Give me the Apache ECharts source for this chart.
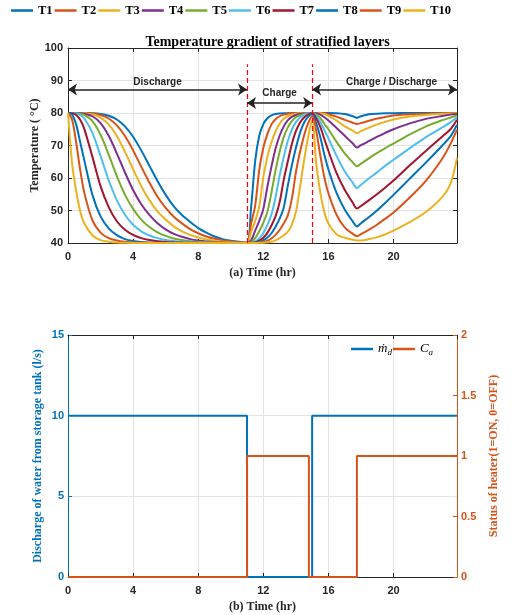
<!DOCTYPE html>
<html><head><meta charset="utf-8">
<script src="https://cdn.jsdelivr.net/npm/echarts@6/dist/echarts.min.js"></script>
<style>html,body{margin:0;padding:0;background:#fff}#c{width:517px;height:615px}</style>
</head><body><div id="c"></div>
<script>
// ---- data ----
const timeHr = [0,0.25,0.5,0.75,1,1.5,2,2.5,3,3.5,4,4.5,5,5.5,6,6.5,7,7.5,8,8.5,9,9.5,10,10.5,11,
  11.25,11.5,11.75,12,12.25,12.5,12.75,13,13.25,13.5,13.75,14,14.25,14.5,14.75,15,
  15.25,15.5,15.75,16,16.5,17,17.5,17.75,18,18.5,19,19.5,20,21,22,23,23.5,23.9];
const T1 = [80,80,80,80,80,79.93,79.72,79.15,78.0,75.9,72.7,68.5,63.8,59.05,54.8,51.3,48.6,46.5,44.6,43.2,42.0,41.2,40.7,40.35,40.15,
  51,65.2,73,76.6,78.4,79.3,79.7,79.85,79.92,79.95,79.97,79.98,80,80,80,80,
  80,80,80,80,79.95,79.7,79.0,78.5,79.0,79.6,79.8,79.9,79.95,80,80,80,80,80];
const T2 = [80,80,80,80,80,79.84,79.4,78.3,76.2,72.9,68.5,63.5,58.6,54.25,50.8,48.1,46.05,44.3,43.0,42.0,41.3,40.8,40.45,40.25,40.1,
  46,51.5,62.5,69.3,73.5,76.5,78.1,79.0,79.5,79.8,79.9,79.95,80,80,80,80,
  80,80,79.9,79.6,78.9,77.9,77.0,76.6,76.9,77.6,78.3,78.8,79.2,79.6,79.8,79.9,79.95,80];
const T3 = [80,80,80,80,79.93,79.6,78.6,76.5,72.9,68.05,62.7,57.5,53.2,49.7,47.2,45.1,43.6,42.5,41.7,41.1,40.7,40.4,40.25,40.1,40.05,
  43.4,46.8,51.2,60.3,66.5,71,74.3,76.7,78.2,79.0,79.5,79.75,79.9,79.95,80,80,
  80,79.95,79.7,79.1,77.7,75.9,74.6,73.8,74.4,75.5,76.5,77.3,78.0,78.9,79.4,79.75,79.85,79.9];
const T4 = [80,80,80,79.94,79.8,79.0,76.9,73.0,67.6,61.7,56.3,51.9,48.66,46.1,44.2,42.8,41.9,41.2,40.75,40.45,40.25,40.15,40.08,40.04,40.02,
  40.8,43.8,46.8,50.5,57.3,63.5,69,73,75.8,77.7,78.8,79.4,79.7,79.85,79.95,80,
  79.9,79.5,78.7,77.7,75.4,73.0,70.6,69.4,70.1,71.4,72.7,73.9,75.0,76.8,78.2,79.1,79.5,79.7];
const T5 = [80,80,79.96,79.8,79.4,77.5,73.3,67.2,60.6,54.9,50.5,47.2,44.9,43.3,42.2,41.4,40.9,40.55,40.35,40.2,40.1,40.06,40.03,40.02,40.01,
  40.3,41.5,43.6,46.2,49.6,55.5,62.3,68,72.5,75.5,77.5,78.7,79.3,79.65,79.85,80,
  79.5,78.5,76.7,75.0,71.1,67.6,64.8,63.6,64.4,66.1,67.7,69.2,70.6,73.4,75.9,77.8,78.6,79.3];
const T6 = [80,79.99,79.85,79.4,78.3,73.9,66.8,59.3,53.2,48.7,45.6,43.6,42.3,41.5,40.95,40.6,40.35,40.2,40.12,40.07,40.04,40.02,40.01,40,40,
  40.1,40.5,41.4,43,45.6,48.8,54,60.7,66.3,71.3,74.8,77.2,78.6,79.4,79.8,80,
  79.0,77.2,74.8,72.2,66.8,62.1,58.5,56.9,57.9,59.9,61.8,63.8,65.6,69.2,72.6,75.6,77.1,78.7];
const T7 = [80,79.93,79.4,77.9,75.1,66.5,57.5,51.05,46.7,44.1,42.5,41.5,40.9,40.55,40.33,40.2,40.12,40.07,40.04,40.02,40.01,40,40,40,40,
  40.05,40.2,40.7,41.6,43.1,45.4,48.2,52.5,59.3,65,70.4,74.4,77,78.6,79.5,79.9,
  78.3,75.7,72.0,68.3,61.5,56.4,52.4,50.6,51.4,53.2,55.1,57.1,59.2,63.9,68.4,72.8,75.0,77.9];
const T8 = [80,79.5,76.5,71.0,65.5,54.8,48.2,44.5,42.4,41.2,40.6,40.3,40.15,40.08,40.04,40.02,40,40,40,40,40,40,40,40,40,
  40,40.1,40.3,40.8,41.7,43,45,47.5,50.8,57.5,63.8,69.2,73.8,77,78.8,79.6,
  76.8,72.6,67.2,62.6,55.4,50.3,46.6,45.1,46.1,48.0,50.1,52.4,54.8,59.8,64.8,70.0,72.8,76.4];
const T9 = [80,78,71,62.5,55.5,47,43.2,41.5,40.75,40.35,40.15,40.07,40.03,40,40,40,40,40,40,40,40,40,40,40,40,
  40,40.05,40.1,40.3,40.7,41.4,42.5,44,46,48.4,53.5,61.7,67.9,73,76.8,79,
  74.5,67,60.2,55.3,48.7,44.8,42.8,42.1,42.7,44.1,45.7,47.5,49.4,54.0,59.2,66.0,70.5,74.9];
const T10 = [80,64.5,56,49.8,46.1,42.4,40.9,40.4,40.15,40.05,40,40,40,40,40,40,40,40,40,40,40,40,40,40,40,
  40,40,40.05,40.1,40.2,40.4,40.8,41.5,42.4,43.4,45.6,49.5,57,65.3,72.5,77.8,
  64.5,55.5,49.5,46.0,42.7,41.6,41.0,40.8,40.8,41.2,41.8,42.7,43.8,46.4,49.6,54.2,58.2,66.2];
const layerNames = ['T1','T2','T3','T4','T5','T6','T7','T8','T9','T10'];
const layerValues = [T1,T2,T3,T4,T5,T6,T7,T8,T9,T10];

const flowTimes = [0, 11, 15, 23.9];
const flowValues = [10, 0, 10, 10];
const heaterTimes = [0, 11, 14.8, 17.75, 23.9];
const heaterValues = [0, 1, 0, 1, 1];

const phaseBounds = [11, 15];
const phaseLabels = ['Discharge', 'Charge', 'Charge / Discharge'];
const phaseStarts = [0, 11, 15];
const phaseEnds = [11, 15, 23.9];

// ---- styles ----
const colors = ['#0072BD','#D95319','#EDB120','#7E2F8E','#77AC30','#4DBEEE','#A2142F','#0072BD','#D95319','#EDB120'];
const AX = '#262626', GRID = '#e3e3e3';
const sans = "'Liberation Sans', Arial, sans-serif";
const serif = "'Liberation Serif', 'Times New Roman', serif";
const BLUE = '#0072BD', ORANGE = '#D95319';
const XMAX = 23.9;

function xAxisBase(gridIndex, showLabel, name) {
  return {
    type: 'value', gridIndex, min: 0, max: XMAX, interval: 4,
    axisLine: {show: true, onZero: false, lineStyle: {color: AX, width: 1}},
    axisTick: {show: true, inside: true, length: 4, lineStyle: {color: AX}},
    axisLabel: {show: showLabel, showMaxLabel: false, color: AX, fontFamily: sans, fontWeight: 'bold', fontSize: 11, margin: 8},
    splitLine: {show: showLabel, lineStyle: {color: GRID, width: 1}},
    name: name || '', nameLocation: 'middle', nameGap: 24, nameMoveOverlap: false,
    nameTextStyle: {fontFamily: serif, fontWeight: 'bold', fontSize: 12, color: AX}
  };
}
function xAxisTop(gridIndex) {
  const a = xAxisBase(gridIndex, false, '');
  a.position = 'top';
  return a;
}
function yAxisBase(gridIndex, min, max, interval, position, color, showLabel, split, name, nameGap) {
  return {
    type: 'value', gridIndex, min, max, interval, position,
    axisLine: {show: true, onZero: false, lineStyle: {color}},
    axisTick: {show: true, inside: true, length: 4, lineStyle: {color}},
    axisLabel: {show: showLabel, color, fontFamily: sans, fontWeight: 'bold', fontSize: 11, margin: 5},
    splitLine: {show: split, lineStyle: {color: GRID}},
    name: name || '', nameLocation: 'middle', nameGap: nameGap || 0, nameRotate: 90, nameMoveOverlap: false,
    nameTextStyle: {fontFamily: serif, fontWeight: 'bold', fontSize: 12, color}
  };
}

const chart = echarts.init(document.getElementById('c'), null, {renderer: 'canvas'});

const series = layerNames.map((n, k) => ({
  name: n, type: 'line', xAxisIndex: 0, yAxisIndex: 0,
  data: timeHr.map((t, i) => [t, layerValues[k][i]]),
  symbol: 'none', showSymbol: false, smooth: 0.3, clip: false,
  lineStyle: {width: 2, color: colors[k]}, itemStyle: {color: colors[k]},
  z: 3
}));

series.push({
  name: 'phaseLines', type: 'line', xAxisIndex: 0, yAxisIndex: 0, data: [], silent: true,
  markLine: {
    silent: true, symbol: ['none', 'none'], animation: false,
    lineStyle: {color: '#FF0000', type: [5, 3], width: 1.2},
    label: {show: false},
    data: phaseBounds.map(b => [{coord: [b, 40]}, {coord: [b, 95]}])
  }
});
const arrowY = [87.2, 83.1, 87.2];
const labelDist = [2, 5, 2];
const labelPad = [[0,0,0,0],[0,0,0,0],[0,0,0,14]];
series.push({
  name: 'phaseArrows', type: 'line', xAxisIndex: 0, yAxisIndex: 0, data: [], silent: true,
  markLine: {
    silent: true, symbol: ['arrow', 'arrow'], symbolSize: 9, animation: false,
    lineStyle: {color: '#222', type: 'solid', width: 1.5},
    data: phaseLabels.map((lab, i) => [
      {coord: [phaseStarts[i], arrowY[i]], name: lab,
       label: {show: true, position: 'insideMiddleTop', formatter: lab, distance: labelDist[i], padding: labelPad[i],
               color: AX, fontFamily: sans, fontWeight: 'bold', fontSize: 10}},
      {coord: [phaseEnds[i], arrowY[i]]}
    ])
  }
});

series.push({
  name: 'm_d', type: 'line', xAxisIndex: 2, yAxisIndex: 2, step: 'end',
  data: flowTimes.map((t, i) => [t, flowValues[i]]),
  symbol: 'none', showSymbol: false, clip: false,
  lineStyle: {width: 2, color: BLUE}, itemStyle: {color: BLUE}, z: 3
});
series.push({
  name: 'C_a', type: 'line', xAxisIndex: 2, yAxisIndex: 3, step: 'end',
  data: heaterTimes.map((t, i) => [t, heaterValues[i]]),
  symbol: 'none', showSymbol: false, clip: false,
  lineStyle: {width: 2, color: ORANGE}, itemStyle: {color: ORANGE}, z: 4
});

const option = {
  animation: false,
  backgroundColor: '#fff',
  title: {
    text: 'Temperature gradient of stratified layers',
    left: 262.5, top: 30, textAlign: 'center',
    textStyle: {fontFamily: serif, fontWeight: 'bold', fontSize: 14, color: '#000'}
  },
  legend: [
    {
      data: layerNames, left: 11, top: 4, padding: 0, icon: 'rect', itemWidth: 22, itemHeight: 2.5, itemGap: 2,
      textStyle: {fontFamily: serif, fontWeight: 'bold', fontSize: 12.5, color: '#000'},
      selectedMode: false
    },
    {
      data: ['m_d', 'C_a'], left: 351, top: 342, padding: 0, icon: 'rect', itemWidth: 22, itemHeight: 2.5, itemGap: 1,
      selectedMode: false,
      formatter: n => n === 'm_d' ? '{i|ṁ}{s|d}' : '{i|C}{s|a}',
      textStyle: {
        color: '#000',
        rich: {
          i: {fontFamily: serif, fontStyle: 'italic', fontSize: 13, color: '#000', lineHeight: 16},
          s: {fontFamily: serif, fontStyle: 'italic', fontSize: 9, color: '#000', lineHeight: 16, verticalAlign: 'bottom', padding: [6,0,0,0]}
        }
      }
    }
  ],
  grid: [
    {left: 68, right: 60, top: 48, height: 195, outerBoundsMode: 'none', containLabel: false},
    {left: 68, right: 60, top: 335, height: 242, outerBoundsMode: 'none', containLabel: false}
  ],
  xAxis: [
    xAxisBase(0, true, '(a) Time (hr)'),
    xAxisTop(0),
    xAxisBase(1, true, '(b) Time (hr)'),
    xAxisTop(1)
  ],
  yAxis: [
    yAxisBase(0, 40, 100, 10, 'left', AX, true, true, 'Temperature ( °C)', 27),
    yAxisBase(0, 40, 100, 10, 'right', AX, false, false, '', 0),
    yAxisBase(1, 0, 15, 5, 'left', BLUE, true, true, 'Discharge of water from storage tank (l/s)', 24),
    yAxisBase(1, 0, 2, 0.5, 'right', ORANGE, true, false, 'Status of heater(1=ON, 0=OFF)', 31)
  ],
  series
};
option.yAxis[2].axisLabel.margin = 4;
option.yAxis[3].axisLabel.margin = 4;
chart.setOption(option);
</script>
</body></html>
